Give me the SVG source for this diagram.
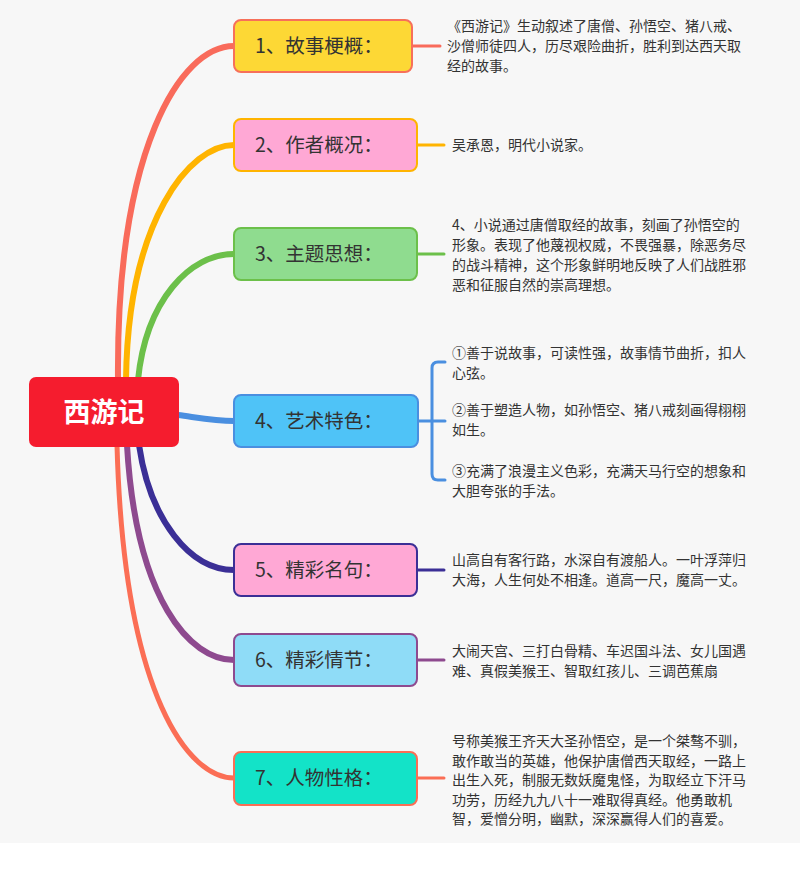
<svg xmlns="http://www.w3.org/2000/svg" width="800" height="887" viewBox="0 0 800 887">
<style>
text{font-family:"Noto Sans CJK SC","Noto Sans",sans-serif}
.lbl{font-size:19.5px;fill:#333}
.t{font-size:14px;fill:#333}
.br{fill:none;stroke-linecap:round}
</style>
<rect width="800" height="887" fill="#fff"/>
<rect width="800" height="843" fill="#f7f7f7"/>
<g id="connectors" class="br">
<path d="M118,380 C116,150 180,46 234,46" stroke="#f96b5b" stroke-width="6"/>
<path d="M126,380 C128,220 190,145 234,145" stroke="#ffb400" stroke-width="6"/>
<path d="M138,380 C146,300 190,254 234,254" stroke="#6cc04a" stroke-width="6"/>
<path d="M178,415 C200,418 215,421 234,421" stroke="#4a8fe0" stroke-width="6"/>
<path d="M139,445 C150,520 190,570 234,570" stroke="#3b2f96" stroke-width="6"/>
<path d="M127,445 C136,600 190,660 234,660" stroke="#8e4a8f" stroke-width="6"/>
<path d="M117,445 C124,700 190,778 234,778" stroke="#fb6e55" stroke-width="5"/>
<path d="M412,46 H440" stroke="#f96b5b" stroke-width="3"/>
<path d="M417,145 H444" stroke="#ffb400" stroke-width="3"/>
<path d="M417,254 H444" stroke="#6cc04a" stroke-width="3"/>
<path d="M418,421 H432 M445,362 H438 Q432,362 432,368 V474 Q432,480 438,480 H445" stroke="#4a8fe0" stroke-width="3"/>
<path d="M432,421 H445" stroke="#4a8fe0" stroke-width="3"/>
<path d="M417,570 H444" stroke="#3b2f96" stroke-width="3"/>
<path d="M417,660 H444" stroke="#8e4a8f" stroke-width="3"/>
<path d="M417,778 H444" stroke="#fb6e55" stroke-width="3"/>
</g>
<g id="root"><rect x="29" y="377" width="150" height="70" rx="7" fill="#f51c2e"/><text x="104" y="422" text-anchor="middle" font-size="27" font-weight="bold" fill="#fff">西游记</text></g>
<g id="n1"><rect x="234" y="20" width="178" height="52" rx="7" fill="#fdd835" stroke="#f7705a" stroke-width="2"/><text class="lbl" x="255" y="53">1、故事梗概：</text>
<text class="t" x="447" y="31">《西游记》生动叙述了唐僧、孙悟空、猪八戒、</text><text class="t" x="447" y="51">沙僧师徒四人，历尽艰险曲折，胜利到达西天取</text><text class="t" x="447" y="71">经的故事。</text></g>
<g id="n2"><rect x="234" y="119" width="183" height="52" rx="7" fill="#ffa8d5" stroke="#ffb400" stroke-width="2"/><text class="lbl" x="255" y="152">2、作者概况：</text>
<text class="t" x="452" y="150">吴承恩，明代小说家。</text></g>
<g id="n3"><rect x="234" y="228" width="183" height="52" rx="7" fill="#8fdc8f" stroke="#6cc04a" stroke-width="2"/><text class="lbl" x="255" y="261">3、主题思想：</text>
<text class="t" x="452" y="230">4、小说通过唐僧取经的故事，刻画了孙悟空的</text><text class="t" x="452" y="250">形象。表现了他蔑视权威，不畏强暴，除恶务尽</text><text class="t" x="452" y="270">的战斗精神，这个形象鲜明地反映了人们战胜邪</text><text class="t" x="452" y="290">恶和征服自然的崇高理想。</text></g>
<g id="n4"><rect x="234" y="395" width="184" height="52" rx="7" fill="#4fc3f7" stroke="#4a8fe0" stroke-width="2"/><text class="lbl" x="255" y="428">4、艺术特色：</text>
<text class="t" x="452" y="358">①善于说故事，可读性强，故事情节曲折，扣人</text><text class="t" x="452" y="378">心弦。</text>
<text class="t" x="452" y="415">②善于塑造人物，如孙悟空、猪八戒刻画得栩栩</text><text class="t" x="452" y="435">如生。</text>
<text class="t" x="452" y="476">③充满了浪漫主义色彩，充满天马行空的想象和</text><text class="t" x="452" y="496">大胆夸张的手法。</text></g>
<g id="n5"><rect x="234" y="544" width="183" height="52" rx="7" fill="#ffa8d5" stroke="#3b2f96" stroke-width="2"/><text class="lbl" x="255" y="577">5、精彩名句：</text>
<text class="t" x="452" y="565">山高自有客行路，水深自有渡船人。一叶浮萍归</text><text class="t" x="452" y="585">大海，人生何处不相逢。道高一尺，魔高一丈。</text></g>
<g id="n6"><rect x="234" y="634" width="183" height="52" rx="7" fill="#8fdcf7" stroke="#8e4a8f" stroke-width="2"/><text class="lbl" x="255" y="667">6、精彩情节：</text>
<text class="t" x="452" y="656">大闹天宫、三打白骨精、车迟国斗法、女儿国遇</text><text class="t" x="452" y="676">难、真假美猴王、智取红孩儿、三调芭蕉扇</text></g>
<g id="n7"><rect x="234" y="752" width="183" height="53" rx="7" fill="#13e3c8" stroke="#fb6e55" stroke-width="2"/><text class="lbl" x="255" y="785">7、人物性格：</text>
<text class="t" x="452" y="746">号称美猴王齐天大圣孙悟空，是一个桀骜不驯，</text><text class="t" x="452" y="766">敢作敢当的英雄，他保护唐僧西天取经，一路上</text><text class="t" x="452" y="785">出生入死，制服无数妖魔鬼怪，为取经立下汗马</text><text class="t" x="452" y="805">功劳，历经九九八十一难取得真经。他勇敢机</text><text class="t" x="452" y="824">智，爱憎分明，幽默，深深赢得人们的喜爱。</text></g>
</svg>
